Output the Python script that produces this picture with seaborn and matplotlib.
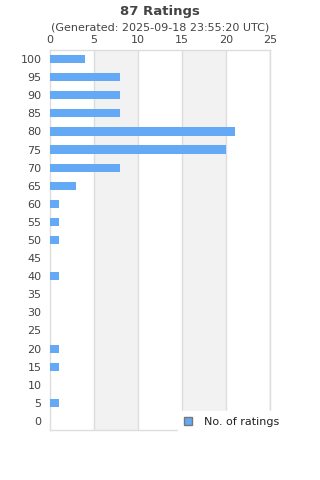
import matplotlib
matplotlib.use("Agg")
import matplotlib.pyplot as plt
from matplotlib.patches import Patch
import seaborn as sns
import pandas as pd

ratings = ["100", "95", "90", "85", "80", "75", "70", "65", "60", "55", "50",
           "45", "40", "35", "30", "25", "20", "15", "10", "5", "0"]
counts = [4, 8, 8, 8, 21, 20, 8, 3, 1, 1, 1, 0, 1, 0, 0, 0, 1, 1, 0, 1, 0]
x_ticks = [0, 5, 10, 15, 20, 25]
title = "87 Ratings"
subtitle = "(Generated: 2025-09-18 23:55:20 UTC)"
series_name = "No. of ratings"

bar_color = "#63a9f5"
text_color = "#444444"
grid_color = "#dddddd"

sns.set_theme(style="white")
plt.rcParams["font.family"] = ["DejaVu Sans"]

df = pd.DataFrame({"rating": ratings, "count": counts})

fig = plt.figure(figsize=(3.2, 4.8), dpi=100)
ax = fig.add_axes([50 / 320, 50 / 480, 220 / 320, 380 / 480])

sns.barplot(data=df, y="rating", x="count", order=ratings, orient="h",
            color=bar_color, saturation=1, width=0.45, ax=ax, zorder=3,
            linewidth=0, edgecolor="none")

ax.set_xlim(0, 25)
ax.set_ylim(len(ratings) - 0.5, -0.5)

# alternating bands
for i in range(len(x_ticks) - 1):
    if i % 2 == 1:
        ax.axvspan(x_ticks[i], x_ticks[i + 1], color="#f2f2f2", zorder=0, lw=0)
for t in x_ticks[1:]:
    ax.axvline(t, color=grid_color, lw=1, zorder=1)

ax.xaxis.tick_top()
ax.set_xticks(x_ticks)
ax.set_xticklabels([str(t) for t in x_ticks])
ax.tick_params(axis="both", length=0, labelsize=8, labelcolor=text_color)
ax.tick_params(axis="x", pad=3.5)
ax.tick_params(axis="y", pad=6)
ax.set_xlabel("")
ax.set_ylabel("")
for s in ax.spines.values():
    s.set_color(grid_color)
    s.set_linewidth(1)

fig.text(0.5, 1 - 11 / 480, title, ha="center", va="center",
         fontsize=9.5, fontweight="bold", color=text_color)
fig.text(0.5, 1 - 27.5 / 480, subtitle, ha="center", va="center",
         fontsize=8, color=text_color)

handle = Patch(facecolor=bar_color, edgecolor="#777777", linewidth=1)
leg = fig.legend([handle], [series_name], loc="upper left",
                 bbox_to_anchor=(178 / 320, 1 - 411 / 480),
                 frameon=True, fancybox=False, framealpha=1,
                 facecolor="white", edgecolor="white",
                 fontsize=8, handlelength=0.8, handleheight=0.8,
                 handletextpad=1.0, borderpad=0.5, borderaxespad=0)
for t in leg.get_texts():
    t.set_color("#222222")

fig.savefig("out.png", dpi=100)
